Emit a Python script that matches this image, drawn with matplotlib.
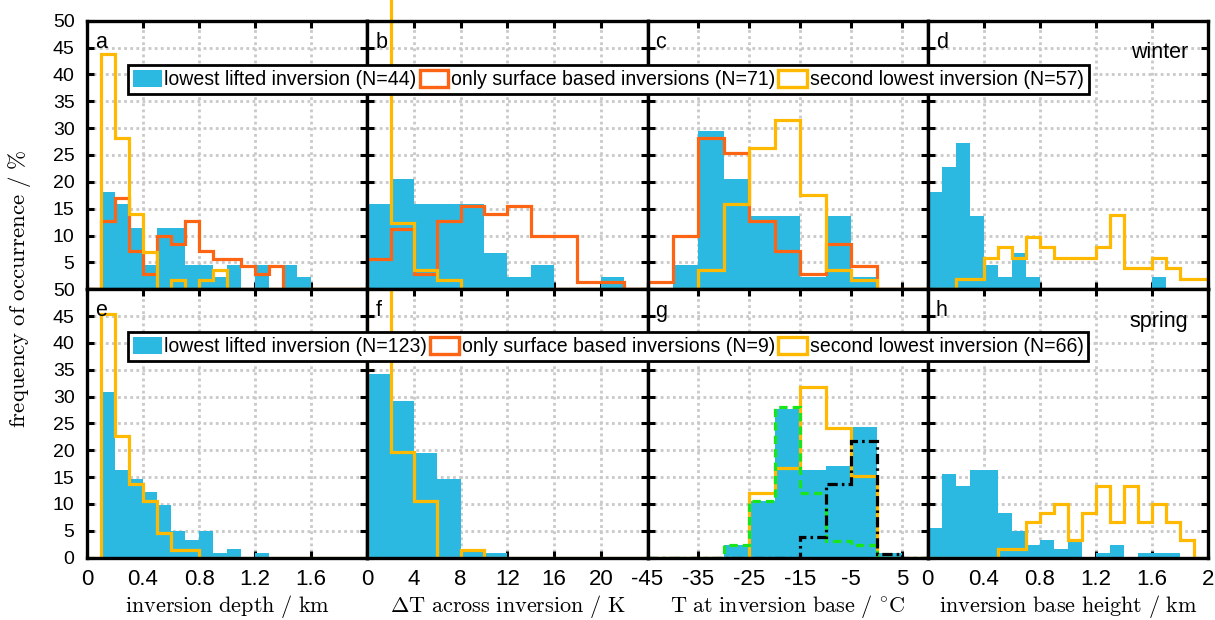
import numpy as np
import matplotlib
matplotlib.use("Agg")
import matplotlib.pyplot as plt
from matplotlib.patches import Patch
from matplotlib.transforms import Bbox, TransformedBbox
from matplotlib import font_manager

# ---------------- data (frequency of occurrence, %) ----------------
# bin edges
depth_edges = np.round(np.arange(0.0, 2.001, 0.1), 2)     # inversion depth / base height, km
dT_edges = np.arange(0, 24.1, 2)                            # K
T_edges = np.arange(-45, 10.1, 5)                           # degC

# winter
a_lifted = [0, 18.18, 15.91, 11.36, 4.55, 11.36, 11.36, 4.55, 4.55, 2.27, 4.55, 0, 4.55, 0, 4.55, 2.27, 0, 0, 0, 0]
a_surface = [0, 12.68, 16.90, 7.04, 2.82, 9.86, 8.45, 12.68, 7.04, 5.63, 5.63, 4.23, 2.82, 4.23, 0, 0, 0, 0, 0, 0]
a_second = [0, 43.86, 28.07, 14.04, 7.02, 0, 1.75, 0, 1.75, 3.51, 0, 0, 0, 0, 0, 0, 0, 0, 0, 0]

b_lifted = [15.91, 20.45, 15.91, 15.91, 15.91, 6.82, 2.27, 4.55, 0, 0, 2.27, 0]
b_surface = [5.63, 11.27, 2.82, 12.68, 15.49, 14.08, 15.49, 9.86, 9.86, 1.41, 1.41, 0]
b_second = [82.46, 12.28, 3.51, 1.75, 0, 0, 0, 0, 0, 0, 0, 0]

c_lifted = [0, 4.55, 29.55, 20.45, 13.64, 13.64, 2.27, 13.64, 2.27, 0, 0]
c_surface = [1.41, 9.86, 28.17, 25.35, 12.68, 7.04, 2.82, 8.45, 4.23, 0, 0]
c_second = [0, 0, 3.51, 15.79, 26.32, 31.58, 17.54, 3.51, 1.75, 0, 0]

d_lifted = [18.18, 22.73, 27.27, 13.64, 4.55, 2.27, 6.82, 2.27, 0, 0, 0, 0, 0, 0, 0, 0, 2.27, 0, 0, 0]
d_second = [0, 0, 1.96, 1.96, 5.88, 7.84, 5.88, 9.80, 7.84, 5.88, 5.88, 5.88, 7.84, 13.73, 3.92, 3.92, 5.88, 3.92, 1.96, 1.96]

# spring
e_lifted = [0, 30.89, 16.26, 14.63, 12.20, 9.76, 4.88, 3.25, 4.88, 0.81, 1.63, 0, 0.81, 0, 0, 0, 0, 0, 0, 0]
e_second = [0, 45.45, 22.73, 13.64, 10.61, 4.55, 1.52, 1.52, 0, 0, 0, 0, 0, 0, 0, 0, 0, 0, 0, 0]

f_lifted = [34.15, 29.27, 19.51, 14.63, 1.63, 0.81, 0, 0, 0, 0, 0, 0]
f_second = [68.18, 19.70, 10.61, 0, 1.52, 0, 0, 0, 0, 0, 0, 0]

g_lifted = [0, 0, 0, 2.44, 10.57, 27.64, 16.26, 17.07, 24.39, 0.81, 0]
g_second = [0, 0, 0, 0, 12.12, 16.67, 31.82, 24.24, 15.15, 0, 0]
g_green = [0, 0, 0, 2.35, 10.5, 28.1, 12.1, 3.2, 2.35, 0, 0]
g_black = [0, 0, 0, 0, 0, 0, 3.9, 13.8, 21.7, 0.7, 0]

h_lifted = [5.6, 15.6, 13.3, 16.3, 16.3, 8.3, 5.0, 2.4, 3.3, 1.6, 2.9, 0, 0.8, 2.4, 0, 0.8, 0.8, 0.8, 0, 0]
h_second = [0, 0, 0, 0, 0, 1.67, 1.67, 6.67, 8.33, 10.0, 3.33, 8.33, 13.33, 6.67, 13.33, 6.67, 10.0, 6.67, 3.33, 0]

legend_top = ["lowest lifted inversion (N=44)", "only surface based inversions (N=71)",
              "second lowest inversion (N=57)"]
legend_bot = ["lowest lifted inversion (N=123)", "only surface based inversions (N=9)",
              "second lowest inversion (N=66)"]
panel_letters = ["a", "b", "c", "d", "e", "f", "g", "h"]
seasons = ["winter", "spring"]
xlabels = [r"$\mathrm{inversion\ depth\ /\ km}$",
           r"$\Delta\mathrm{T\ across\ inversion\ /\ K}$",
           r"$\mathrm{T\ at\ inversion\ base\ /\ ^{\circ}C}$",
           r"$\mathrm{inversion\ base\ height\ /\ km}$"]
ylabel = r"$\mathrm{frequency\ of\ occurrence\ /\ \%}$"

xticks = [[0, 0.4, 0.8, 1.2, 1.6, 2.0], [0, 4, 8, 12, 16, 20, 24],
          [-45, -35, -25, -15, -5, 5], [0, 0.4, 0.8, 1.2, 1.6, 2.0]]
xticklabels = [["0", "0.4", "0.8", "1.2", "1.6", ""], ["0", "4", "8", "12", "16", "20", ""],
               ["-45", "-35", "-25", "-15", "-5", "5"], ["0", "0.4", "0.8", "1.2", "1.6", "2"]]
xlims = [(0, 2), (0, 24), (-45, 10), (0, 2)]
yticks = list(range(0, 51, 5))

# ---------------- style ----------------
BLUE = "#2cb9e1"
ORANGE = "#fd6414"
YELLOW = "#ffb900"
GREEN = "#19e619"
LW = 2.3

plt.rcParams["font.family"] = ["Liberation Sans", "DejaVu Sans"]
plt.rcParams["mathtext.fontset"] = "cm"

names = {f.name for f in font_manager.fontManager.ttflist}
xtick_family = "Liberation Sans Narrow" if "Liberation Sans Narrow" in names else "Liberation Sans"

FW, FH = 1215, 620
fig = plt.figure(figsize=(FW / 100, FH / 100), dpi=100)

L0, W = 87.0, (1208.0 - 87.0) / 4
y_top, y_mid, y_bot = 20.7, 289.2, 557.7

rows = [
    [(a_lifted, a_surface, a_second), (b_lifted, b_surface, b_second),
     (c_lifted, c_surface, c_second), (d_lifted, None, d_second)],
    [(e_lifted, None, e_second), (f_lifted, None, f_second),
     (g_lifted, None, g_second), (h_lifted, None, h_second)],
]
edges_by_col = [depth_edges, dT_edges, T_edges, depth_edges]

axes = []
for r in range(2):
    for c in range(4):
        if r == 0:
            rect = [(L0 + c * W) / FW, (FH - y_mid) / FH, W / FW, (y_mid - y_top) / FH]
        else:
            rect = [(L0 + c * W) / FW, (FH - y_bot) / FH, W / FW, (y_bot - y_mid) / FH]
        ax = fig.add_axes(rect)
        axes.append(ax)
        edges = edges_by_col[c]
        lifted, surface, second = rows[r][c]
        ax.stairs(lifted, edges, fill=True, color=BLUE, linewidth=0, zorder=2.0)
        if surface is not None:
            ax.stairs(surface, edges, baseline=0, fill=False, color=ORANGE,
                      linewidth=LW, joinstyle="miter", zorder=2.1)
        sp = ax.stairs(second, edges, baseline=0, fill=False, color=YELLOW,
                       linewidth=LW, joinstyle="miter", zorder=2.2)
        if r == 0 and c == 1:
            # tall first bin runs off the top of the panel up to the figure edge
            sp.set_clip_box(TransformedBbox(Bbox([[0.012, -0.05], [1.0, 3.0]]), ax.transAxes))
        if r == 1 and c == 2:
            ax.stairs(g_green, edges, baseline=0, fill=False, color=GREEN, linewidth=LW,
                      linestyle=(0, (2.6, 1.6)), zorder=2.3)
            ax.stairs(g_black, edges, baseline=0, fill=False, color="black", linewidth=LW,
                      linestyle=(0, (3.2, 1.3, 0.8, 1.3)), zorder=2.3)

        ax.set_xlim(*xlims[c])
        ax.set_ylim(0, 50)
        ax.set_xticks(xticks[c])
        ax.set_yticks(yticks)
        ax.set_axisbelow(True)
        ax.grid(True, color="#c9c9c9", linestyle=(0, (1, 1.2)), linewidth=2.0)
        for s in ax.spines.values():
            s.set_linewidth(2.4)
            s.set_color("black")
        ax.tick_params(direction="in", length=5, width=2.2, top=True, right=True,
                       labelsize=14, colors="black")
        ax.tick_params(axis="y", pad=9)
        ax.tick_params(axis="x", pad=8)
        if r == 1:
            ax.set_xticklabels(xticklabels[c], fontfamily=xtick_family, fontsize=16)
        else:
            ax.set_xticklabels([])
        if c == 0:
            labs = [str(v) for v in yticks]
            if r == 0:
                labs[0] = ""
            ax.set_yticklabels(labs, fontsize=14)
        else:
            ax.set_yticklabels([])
        ax.text(8 / W, 1 - 27.3 / 268.5, panel_letters[r * 4 + c], transform=ax.transAxes,
                fontsize=15.5, va="baseline", ha="left", zorder=6)
        if c == 3:
            ax.text(1 - 20 / W, 1 - 37.8 / 268.5, seasons[r], transform=ax.transAxes,
                    fontsize=15.5, va="baseline", ha="right", zorder=6)
        if r == 1:
            ax.text(0.5, -(611.5 - y_bot) / 268.5, xlabels[c], transform=ax.transAxes,
                    fontsize=16, va="baseline", ha="center")

fig.text(20 / FW, 1 - 289 / FH, ylabel, rotation=90, fontsize=16.5, ha="center", va="center")


def make_handles():
    return [Patch(facecolor=BLUE, edgecolor="none"),
            Patch(facecolor="white", edgecolor=ORANGE, linewidth=2.4),
            Patch(facecolor="white", edgecolor=YELLOW, linewidth=2.4)]


for labels, ytop in [(legend_top, 65.0), (legend_bot, 331.7)]:
    leg = fig.legend(make_handles(), labels, loc="upper left",
                     bbox_to_anchor=(128 / FW, 1 - ytop / FH), bbox_transform=fig.transFigure,
                     ncol=3, fontsize=14.05, frameon=True, fancybox=False, shadow=False,
                     framealpha=1, edgecolor="black", facecolor="white",
                     borderpad=0.25, borderaxespad=0, handlelength=1.47, handleheight=1.0,
                     handletextpad=0.15, columnspacing=0.15)
    leg.get_frame().set_linewidth(2.0)

fig.savefig("out.png", dpi=100)
